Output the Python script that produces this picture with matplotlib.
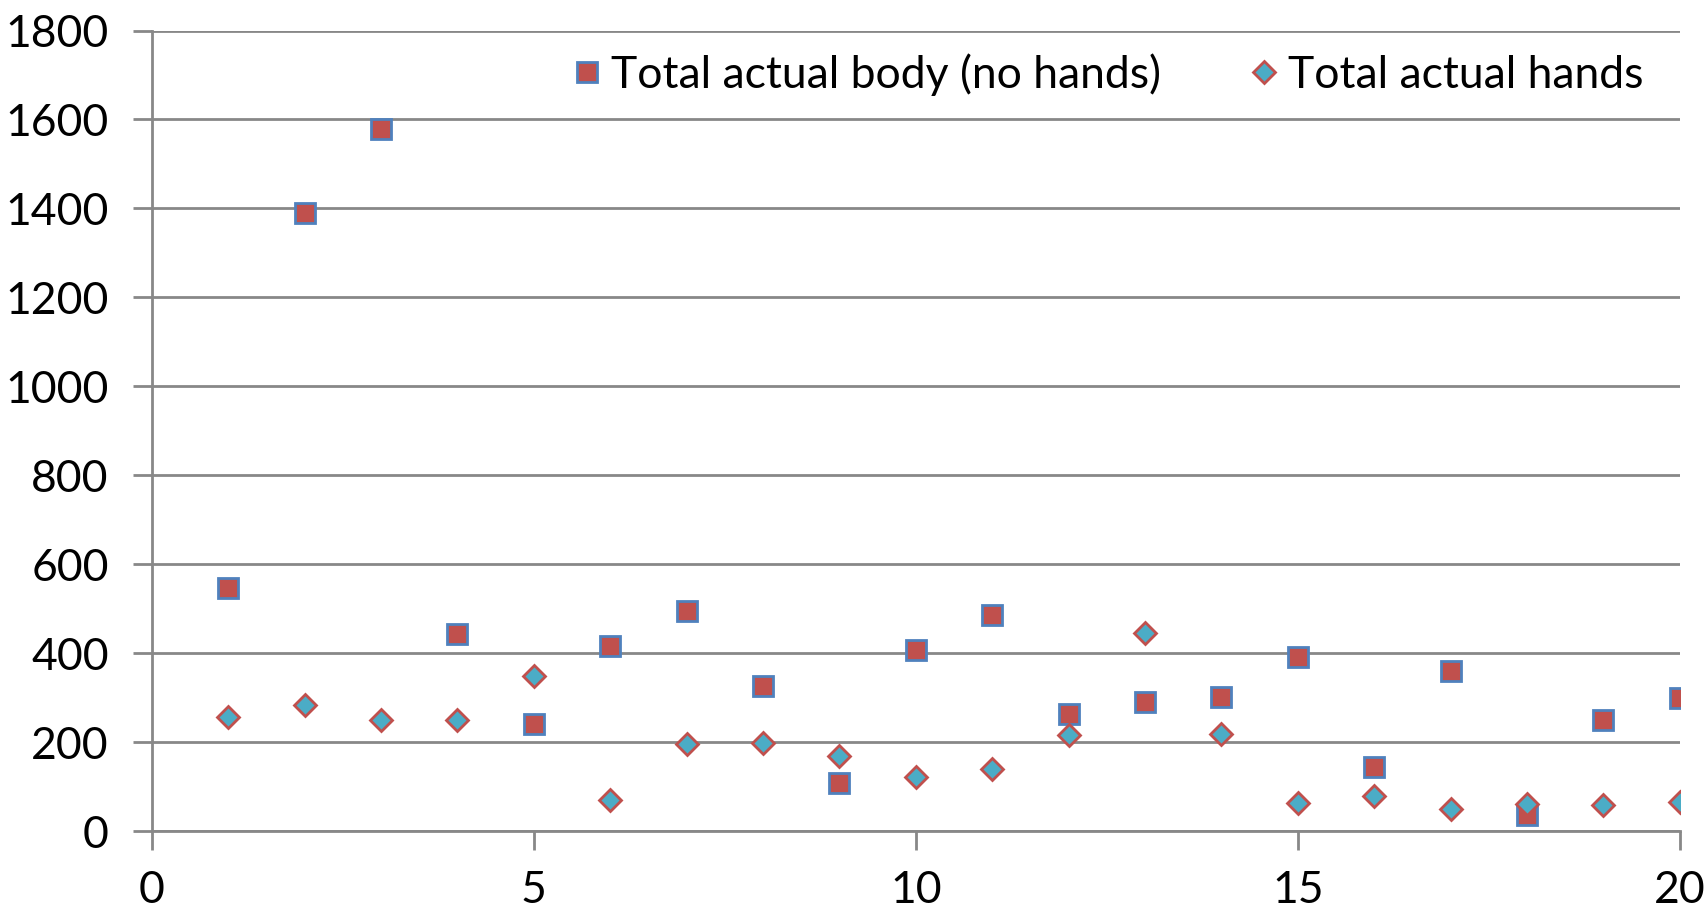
import numpy as np
import matplotlib.pyplot as plt

plt.rcParams['font.family'] = ['Lato', 'DejaVu Sans']

x = list(range(1, 21))
body = [546, 1390, 1578, 443, 240, 416, 495, 326, 108, 407,
        485, 262, 289, 301, 392, 145, 360, 37, 250, 299]
hands = [257, 284, 250, 250, 348, 69, 196, 198, 169, 122,
         140, 216, 446, 218, 64, 78, 49, 61, 59, 66]

fig = plt.figure(figsize=(17.07, 9.11), dpi=100)
ax = fig.add_axes([0.089, 0.0878, 0.895, 0.8787])

ax.plot(x, body, linestyle='none', marker='s', markersize=14.5,
        markerfacecolor='#C0504D', markeredgecolor='#4F81BD', markeredgewidth=2,
        label='Total actual body (no hands)', zorder=3)
ax.plot(x, hands, linestyle='none', marker='D', markersize=11,
        markerfacecolor='#4BACC6', markeredgecolor='#C0504D', markeredgewidth=2,
        label='Total actual hands', zorder=4)

ax.set_xlim(0, 20)
ax.set_ylim(0, 1800)
ax.set_xticks(range(0, 21, 5))
ax.set_yticks(range(0, 1801, 200))
ax.yaxis.grid(True, color='#888888', linewidth=2)
ax.set_axisbelow(True)
for s in ['top', 'right']:
    ax.spines[s].set_visible(False)
for s in ['left', 'bottom']:
    ax.spines[s].set_color('#888888')
    ax.spines[s].set_linewidth(2)
ax.tick_params(axis='both', labelsize=32, length=14, width=2, color='#888888')
ax.tick_params(axis='y', pad=17)
ax.tick_params(axis='x', pad=14)

ax.legend(loc='upper right', bbox_to_anchor=(0.988, 0.994), ncol=2, frameon=False,
          fontsize=32, handlelength=0.6, handletextpad=0.25, columnspacing=2.0,
          borderaxespad=0)

fig.savefig('out.png', dpi=100)
